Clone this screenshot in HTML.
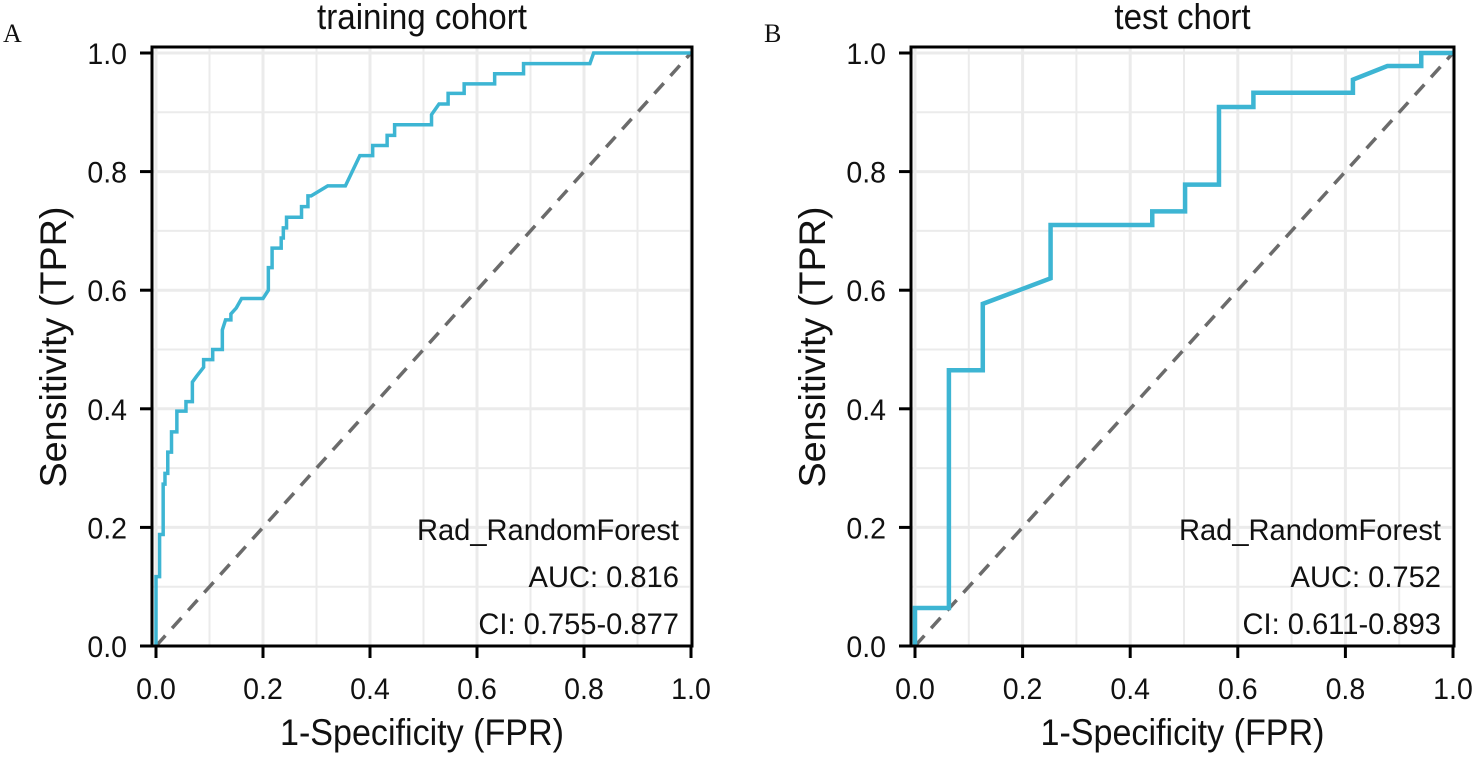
<!DOCTYPE html>
<html><head><meta charset="utf-8"><style>
body{margin:0;background:#fff;}
svg{display:block;font-family:"Liberation Sans",Arial,sans-serif;}
</style></head><body>
<svg id="chart" width="1477" height="757" viewBox="0 0 1477 757"></svg>
<script>
const fprA=[0,0,0.0067,0.0067,0.0134,0.0134,0.0168,0.0168,0.022,0.022,0.029,0.029,0.039,0.039,0.056,0.056,0.068,0.068,0.076,0.089,0.089,0.106,0.106,0.124,0.124,0.13,0.14,0.14,0.15,0.16,0.16,0.2,0.21,0.21,0.217,0.217,0.234,0.234,0.238,0.238,0.244,0.244,0.272,0.272,0.284,0.284,0.29,0.321,0.354,0.381,0.405,0.405,0.432,0.432,0.446,0.446,0.515,0.515,0.529,0.546,0.546,0.576,0.576,0.633,0.633,0.687,0.687,0.811,0.818,1];
const tprA=[0,0.117,0.117,0.188,0.188,0.273,0.273,0.291,0.291,0.327,0.327,0.361,0.361,0.396,0.396,0.412,0.412,0.445,0.455,0.47,0.483,0.483,0.5,0.5,0.533,0.55,0.55,0.56,0.57,0.586,0.586,0.586,0.6,0.638,0.638,0.671,0.671,0.688,0.688,0.705,0.705,0.723,0.723,0.741,0.741,0.759,0.759,0.776,0.776,0.827,0.827,0.844,0.844,0.861,0.861,0.879,0.879,0.896,0.914,0.914,0.932,0.932,0.948,0.948,0.965,0.965,0.982,0.982,1,1];
const fprB=[0,0,0.063,0.063,0.126,0.126,0.252,0.252,0.441,0.441,0.502,0.502,0.565,0.565,0.629,0.629,0.814,0.814,0.878,0.941,0.941,1];
const tprB=[0,0.064,0.064,0.465,0.465,0.577,0.62,0.71,0.71,0.733,0.733,0.778,0.778,0.909,0.909,0.933,0.933,0.955,0.978,0.978,1,1];
const ticks=[0,0.2,0.4,0.6,0.8,1.0];
const tickLabels=["0.0","0.2","0.4","0.6","0.8","1.0"];
const panels=[
 {id:"a",letter:"A",title:"training cohort",x0:156,W:535,lx:3,fpr:fprA,tpr:tprA,auc:"AUC: 0.816",ci:"CI: 0.755-0.877",w:3.5},
 {id:"b",letter:"B",title:"test chort",x0:915,W:538,lx:764,fpr:fprB,tpr:tprB,auc:"AUC: 0.752",ci:"CI: 0.611-0.893",w:4.5}
];
const NS="http://www.w3.org/2000/svg";
const svg=document.getElementById('chart');
function mk(tag,attrs,parent,text){const e=document.createElementNS(NS,tag);for(const k in attrs)e.setAttribute(k,attrs[k]);if(text!==undefined)e.textContent=text;(parent||svg).appendChild(e);return e;}
function squeeze(e,f){const l=e.getComputedTextLength();e.setAttribute('textLength',l*f);e.setAttribute('lengthAdjust','spacingAndGlyphs');}
const Y0=646,Y1=53;
panels.forEach(p=>{
 const W=p.W;
 const sx=v=>p.x0+W*v, sy=v=>Y0-(Y0-Y1)*v;
 const g=mk('g',{});
 
 
 const L=p.x0-4,R=p.x0+W+1,T=47,B=646;
 for(let i=0;i<=10;i++){const v=i/10;const maj=i%2===0;
  const gx=mk('line',{x1:sx(v),x2:sx(v),y1:T,y2:B,stroke:'#ebebeb','stroke-width':maj?3:2},g);
  
  const gy=mk('line',{x1:L,x2:R,y1:sy(v),y2:sy(v),stroke:'#ebebeb','stroke-width':maj?3:2},g);
  }
 const d=mk('line',{x1:sx(0),y1:sy(0),x2:sx(1),y2:sy(1),stroke:'#6b6b6b','stroke-width':3.5,'stroke-dasharray':'14,10'},g);
 
 const pts=p.fpr.map((f,i)=>sx(f)+','+sy(p.tpr[i])).join(' ');
 const c=mk('polyline',{points:pts,fill:'none',stroke:'#3db5d3','stroke-width':p.w,'stroke-linejoin':'miter'},g);
 
 const b=mk('rect',{x:L,y:T,width:R-L,height:B-T,fill:'none',stroke:'#000','stroke-width':3},g);
 
 ticks.forEach((v,i)=>{
  mk('line',{x1:sx(v),x2:sx(v),y1:B,y2:B+12,stroke:'#000','stroke-width':3},g);
  const tx=mk('text',{x:sx(v),y:699,'font-size':30,'text-anchor':'middle',fill:'#111'},g,tickLabels[i]);
  
  squeeze(tx,0.95);
  mk('line',{x1:L-12,x2:L,y1:sy(v),y2:sy(v),stroke:'#000','stroke-width':3},g);
  const ty=mk('text',{x:L-25,y:sy(v)+11,'font-size':30,'text-anchor':'end',fill:'#111'},g,tickLabels[i]);
  
  squeeze(ty,0.95);
 });
 const t=mk('text',{x:(L+R)/2,y:29,'font-size':36,'text-anchor':'middle',fill:'#111'},g,p.title);
 
 squeeze(t,0.92);
 const xt=mk('text',{x:(L+R)/2,y:745,'font-size':37,'text-anchor':'middle',fill:'#111',textLength:284,lengthAdjust:'spacingAndGlyphs'},g,'1-Specificity (FPR)');
 
 const yx=L-86,yy=347;
 const yt=mk('text',{x:yx,y:yy,'font-size':37,'text-anchor':'middle',fill:'#111',textLength:281,lengthAdjust:'spacingAndGlyphs',transform:`rotate(-90 ${yx} ${yy})`},g,'Sensitivity (TPR)');
 
 const ax=R-13;
 [["Rad_RandomForest",540],[p.auc,587],[p.ci,634]].forEach((a,i)=>{
  const e=mk('text',{x:ax,y:a[1],'font-size':30,'text-anchor':'end',fill:'#111'},g,a[0]);
  
  squeeze(e,0.97);
 });
 const lt=mk('text',{x:p.lx,y:42,'font-size':26,'font-family':'Liberation Serif,serif',fill:'#111'},g,p.letter);
 
});
</script>
</body></html>
